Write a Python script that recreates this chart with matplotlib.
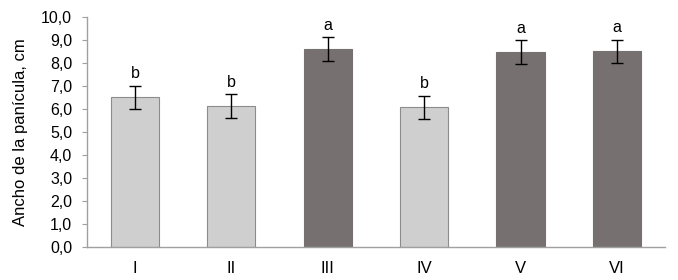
import numpy as np
import matplotlib.pyplot as plt
from matplotlib.ticker import FuncFormatter

plt.rcParams['font.family'] = ['Liberation Sans', 'DejaVu Sans']

# data
groups = ["I", "II", "III", "IV", "V", "VI"]
means = [6.51, 6.12, 8.60, 6.07, 8.47, 8.52]
errs = [0.51, 0.52, 0.52, 0.51, 0.52, 0.50]
letters = ["b", "b", "a", "b", "a", "a"]
dark = [False, False, True, False, True, True]

light_col = "#d0cfcf"
dark_col = "#767170"

fig = plt.figure(figsize=(6.78, 2.8), dpi=100)
ax = fig.add_axes([0.128, 0.118, 0.853, 0.821])

x = np.arange(len(groups))
colors = [dark_col if d else light_col for d in dark]
edges = [dark_col if d else "#8c8c8c" for d in dark]
ax.bar(x, means, width=0.5, color=colors, edgecolor=edges, linewidth=0.8, zorder=2)
ax.errorbar(x, means, yerr=errs, fmt="none", ecolor="black", elinewidth=1.0,
            capsize=4, capthick=1.0, zorder=3)

for xi, m, e, l in zip(x, means, errs, letters):
    ax.text(xi, m + e + 0.2, l, ha="center", va="bottom", fontsize=11.5)

ax.set_xlim(-0.5, len(groups) - 0.5)
ax.set_ylim(0, 10)
ax.set_yticks(np.arange(0, 10.01, 1.0))
ax.yaxis.set_major_formatter(FuncFormatter(lambda v, p: f"{v:.1f}".replace(".", ",")))
ax.set_xticks(x)
ax.set_xticklabels(groups)
ax.set_ylabel("Ancho de la panícula, cm", fontsize=12)
ax.yaxis.set_label_coords(-0.102, 0.5)

for s in ["top", "right"]:
    ax.spines[s].set_visible(False)
for s in ["left", "bottom"]:
    ax.spines[s].set_color("#a0a0a0")
    ax.spines[s].set_linewidth(1.0)
ax.tick_params(axis="y", length=3.5, color="#a0a0a0", labelsize=11.5, pad=7)
ax.tick_params(axis="x", length=0, labelsize=12, pad=10)

fig.savefig("out.png", dpi=100)
